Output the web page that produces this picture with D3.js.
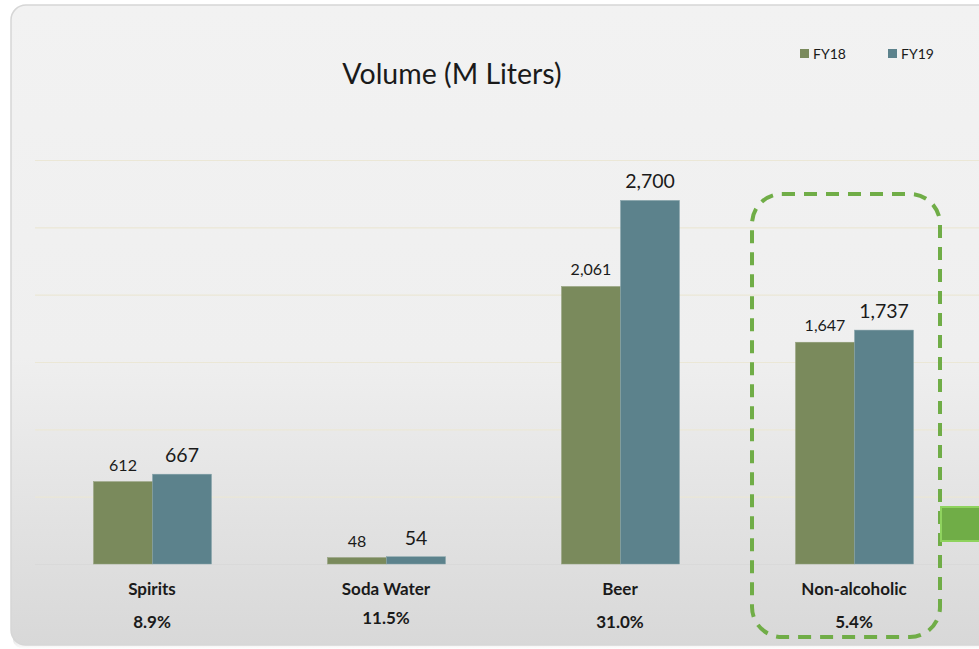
<!DOCTYPE html>
<html>
<head>
<meta charset="utf-8">
<script src="https://cdn.jsdelivr.net/npm/d3@7/dist/d3.min.js"></script>
<style>
  html, body { margin: 0; padding: 0; background: #ffffff; }
  svg { display: block; }
  text { font-family: Lato, "Open Sans", sans-serif; fill: #1a1a1a; }
</style>
</head>
<body>
<svg id="chart" width="979" height="649"></svg>
<script>
// Volume by category, million liters
const categories = ["Spirits", "Soda Water", "Beer", "Non-alcoholic"];
const seriesNames = ["FY18", "FY19"];
const fy18 = [612, 48, 2061, 1647];
const fy19 = [667, 54, 2700, 1737];
const growth = ["8.9%", "11.5%", "31.0%", "5.4%"];
const yTicks = [0, 500, 1000, 1500, 2000, 2500, 3000];

const colors = { FY18: "#7a8a5c", FY19: "#5c828c" };
const highlight = "Non-alcoholic";

const svg = d3.select("#chart");
const fmt = d3.format(",");

// Card background
const defs = svg.append("defs");
const bg = defs.append("linearGradient").attr("id", "cardBg")
  .attr("x1", 0).attr("y1", 0).attr("x2", 0).attr("y2", 1);
bg.append("stop").attr("offset", "0%").attr("stop-color", "#f2f2f2");
bg.append("stop").attr("offset", "55%").attr("stop-color", "#efefef");
bg.append("stop").attr("offset", "100%").attr("stop-color", "#d8d8d8");
const shade = defs.append("linearGradient").attr("id", "cardShadow")
  .attr("x1", 0).attr("y1", 0).attr("x2", 0).attr("y2", 1);
shade.append("stop").attr("offset", "0%").attr("stop-color", "#c8c8c8");
shade.append("stop").attr("offset", "100%").attr("stop-color", "#ffffff");

svg.append("rect").attr("x", 13).attr("y", 630).attr("width", 980).attr("height", 19)
  .attr("rx", 12).attr("fill", "url(#cardShadow)");
svg.append("rect").attr("x", 11).attr("y", 5).attr("width", 1000).attr("height", 640)
  .attr("rx", 15).attr("fill", "url(#cardBg)")
  .attr("stroke", "#d6d6d6").attr("stroke-width", 1.5);

// Scales
const x = d3.scaleBand().domain(categories).range([35, 971]).padding(0);
const xSub = d3.scaleBand().domain(seriesNames).range([58.5, 176.5]).padding(0);
const y = d3.scaleLinear().domain([0, 3000]).range([564, 160]);

// Gridlines
const grid = svg.append("g").attr("transform", "translate(35,0)")
  .call(d3.axisRight(y).tickValues(yTicks.slice(1)).tickSize(950).tickFormat(""));
grid.select(".domain").remove();
grid.selectAll(".tick line").attr("stroke", "#ebe7d6").attr("stroke-width", 1.2);

// Baseline
svg.append("line").attr("x1", 35).attr("x2", 979)
  .attr("y1", y(0) + 0.5).attr("y2", y(0) + 0.5)
  .attr("stroke", "#d9d9d9").attr("stroke-width", 1.2);

// Bars
const rows = categories.map((c, i) => ({ cat: c, FY18: fy18[i], FY19: fy19[i] }));
const groups = svg.append("g").selectAll("g").data(rows).join("g")
  .attr("transform", d => `translate(${x(d.cat)},0)`);

groups.selectAll("rect").data(d => seriesNames.map(s => ({ s, v: d[s] }))).join("rect")
  .attr("x", d => xSub(d.s))
  .attr("y", d => y(d.v))
  .attr("width", xSub.bandwidth())
  .attr("height", d => y(0) - y(d.v))
  .attr("fill", d => colors[d.s])
  .attr("stroke", d => d.s === "FY18" ? "#93a07c" : "#86a3aa")
  .attr("stroke-width", 0.5);

// Value labels
groups.selectAll("text.val").data(d => seriesNames.map(s => ({ s, v: d[s] }))).join("text")
  .attr("class", "val")
  .attr("x", d => xSub(d.s) + xSub.bandwidth() / 2)
  .attr("y", d => y(d.v) - (d.s === "FY18" ? 11 : 12))
  .attr("text-anchor", "middle")
  .attr("font-size", d => d.s === "FY18" ? 16 : 19.5)
  .text(d => fmt(d.v));

// Category axis
const xAxis = svg.append("g").attr("transform", `translate(0,${y(0)})`)
  .call(d3.axisBottom(x).tickSize(0).tickPadding(0));
xAxis.select(".domain").remove();
xAxis.selectAll(".tick text")
  .attr("y", 31).attr("dy", 0)
  .attr("font-size", 17).attr("font-weight", "bold")
  .style("font-family", "Lato, 'Open Sans', sans-serif").attr("fill", "#111");

// Growth labels
svg.append("g").selectAll("text").data(categories).join("text")
  .attr("x", d => x(d) + x.bandwidth() / 2)
  .attr("y", (d, i) => i === 1 ? 624 : 628)
  .attr("text-anchor", "middle")
  .attr("font-size", 17).attr("font-weight", "bold")
  .text((d, i) => growth[i]);

// Title
svg.append("text").attr("x", 452).attr("y", 84)
  .attr("text-anchor", "middle").attr("font-size", 28.5)
  .text("Volume (M Liters)");

// Legend
const legendX = [800, 888];
const legend = svg.append("g").selectAll("g").data(seriesNames).join("g")
  .attr("transform", (d, i) => `translate(${legendX[i]},49)`);
legend.append("rect").attr("width", 9).attr("height", 9).attr("fill", d => colors[d]);
legend.append("text").attr("x", 13).attr("y", 10).attr("font-size", 14).text(d => d);

// Highlight frame around the featured category
const hx = x(highlight) + x.bandwidth() / 2;
svg.append("rect")
  .attr("x", hx - 102).attr("y", 194).attr("width", 188).attr("height", 443)
  .attr("rx", 30).attr("fill", "none")
  .attr("stroke", "#70ad47").attr("stroke-width", 4)
  .attr("stroke-dasharray", "13 9");

// Connector tab on the right edge
svg.append("rect").attr("x", 941).attr("y", 507).attr("width", 50).attr("height", 34)
  .attr("fill", "#70ad47").attr("stroke", "#8fd35e").attr("stroke-width", 2);
</script>
</body>
</html>
